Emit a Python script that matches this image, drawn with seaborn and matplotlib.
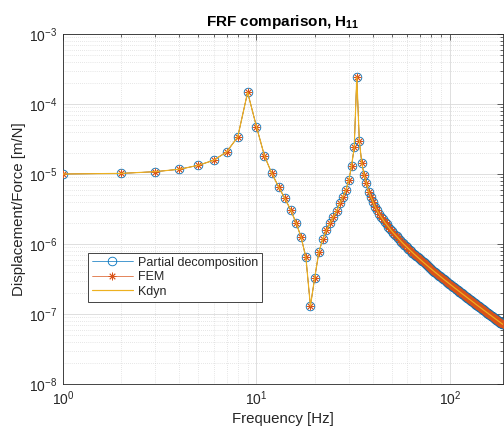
import matplotlib
matplotlib.use("Agg")
import matplotlib.pyplot as plt
import seaborn as sns
import pandas as pd
from matplotlib.ticker import LogLocator, NullFormatter

# ---------------- data ----------------
freq_hz = list(range(1, 189))

h11_low = [
    1.00e-5, 1.02e-5, 1.08e-5, 1.17e-5, 1.33e-5, 1.57e-5, 2.06e-5, 3.38e-5, 1.47e-4, 4.74e-5,
    1.81e-5, 1.02e-5, 6.6e-6, 4.5e-6, 3.1e-6, 2.02e-6, 1.26e-6, 6.45e-7, 1.30e-7, 3.3e-7,
    7.6e-7, 1.17e-6, 1.58e-6, 1.98e-6, 2.46e-6, 2.99e-6, 3.81e-6, 4.74e-6, 5.9e-6, 8.1e-6,
    1.3e-5, 2.4e-5, 2.43e-4, 2.99e-5, 1.45e-5, 9.7e-6, 7.4e-6, 5.6e-6, 4.74e-6, 4.02e-6,
]
h11_tail = [
    3.41e-6, 3.02e-6, 2.71e-6, 2.45e-6, 2.24e-6, 2.05e-6, 1.90e-6, 1.76e-6, 1.64e-6, 1.53e-6,
    1.44e-6, 1.35e-6, 1.28e-6, 1.21e-6, 1.14e-6, 1.08e-6, 1.03e-6, 9.83e-7, 9.38e-7, 8.96e-7,
    8.57e-7, 8.21e-7, 7.87e-7, 7.56e-7, 7.27e-7, 6.99e-7, 6.73e-7, 6.49e-7, 6.26e-7, 6.04e-7,
    5.84e-7, 5.64e-7, 5.46e-7, 5.28e-7, 5.12e-7, 4.96e-7, 4.81e-7, 4.66e-7, 4.53e-7, 4.40e-7,
    4.27e-7, 4.15e-7, 4.04e-7, 3.93e-7, 3.83e-7, 3.73e-7, 3.63e-7, 3.54e-7, 3.45e-7, 3.36e-7,
    3.28e-7, 3.20e-7, 3.13e-7, 3.05e-7, 2.98e-7, 2.91e-7, 2.85e-7, 2.79e-7, 2.72e-7, 2.67e-7,
    2.61e-7, 2.55e-7, 2.50e-7, 2.45e-7, 2.40e-7, 2.35e-7, 2.30e-7, 2.26e-7, 2.21e-7, 2.17e-7,
    2.13e-7, 2.09e-7, 2.05e-7, 2.01e-7, 1.97e-7, 1.94e-7, 1.90e-7, 1.87e-7, 1.83e-7, 1.80e-7,
    1.77e-7, 1.74e-7, 1.71e-7, 1.68e-7, 1.65e-7, 1.62e-7, 1.60e-7, 1.57e-7, 1.55e-7, 1.52e-7,
    1.50e-7, 1.47e-7, 1.45e-7, 1.43e-7, 1.40e-7, 1.38e-7, 1.36e-7, 1.34e-7, 1.32e-7, 1.30e-7,
    1.28e-7, 1.26e-7, 1.25e-7, 1.23e-7, 1.21e-7, 1.19e-7, 1.18e-7, 1.16e-7, 1.14e-7, 1.13e-7,
    1.11e-7, 1.10e-7, 1.08e-7, 1.07e-7, 1.05e-7, 1.04e-7, 1.03e-7, 1.01e-7, 9.99e-8, 9.86e-8,
    9.74e-8, 9.62e-8, 9.49e-8, 9.37e-8, 9.25e-8, 9.14e-8, 9.03e-8, 8.91e-8, 8.80e-8, 8.71e-8,
    8.60e-8, 8.49e-8, 8.39e-8, 8.30e-8, 8.20e-8, 8.11e-8, 8.01e-8, 7.92e-8, 7.82e-8, 7.74e-8,
    7.65e-8, 7.56e-8, 7.48e-8, 7.40e-8, 7.32e-8, 7.24e-8, 7.16e-8, 7.08e-8,
]
h11 = h11_low + h11_tail

partial_decomposition = h11
fem = h11
kdyn = h11

series_labels = ["Partial decomposition", "FEM", "Kdyn"]
x_label = "Frequency [Hz]"
y_label = "Displacement/Force [m/N]"
title = r"FRF comparison, $\mathbf{H_{11}}$"

# ---------------- style ----------------
sns.set_style("white")
plt.rcParams["font.family"] = ["Liberation Sans", "DejaVu Sans"]
plt.rcParams["mathtext.fontset"] = "custom"
plt.rcParams["mathtext.rm"] = "Liberation Sans"
plt.rcParams["mathtext.it"] = "Liberation Sans:italic"
plt.rcParams["mathtext.bf"] = "Liberation Sans:bold"

AX_COLOR = "#262626"
BLUE = "#0072BD"
ORANGE = "#D95319"
YELLOW = "#EDB120"

fig = plt.figure(figsize=(5.04, 4.34), dpi=100)
ax = fig.add_axes([63 / 504, 1 - 384 / 434, 440 / 504, 350 / 434])

df = pd.DataFrame({"f": freq_hz, "partial": partial_decomposition, "fem": fem, "kdyn": kdyn})

sns.lineplot(data=df, x="f", y="partial", ax=ax, color=BLUE, linewidth=0.5,
             marker="o", markersize=6.2, markerfacecolor="none",
             markeredgecolor=BLUE, markeredgewidth=0.6, label=series_labels[0], zorder=3)
sns.lineplot(data=df, x="f", y="fem", ax=ax, color=ORANGE, linewidth=0.5,
             marker=(8, 2, 0), markersize=5.5, markeredgecolor=ORANGE,
             markeredgewidth=0.6, label=series_labels[1], zorder=4)
sns.lineplot(data=df, x="f", y="kdyn", ax=ax, color=YELLOW, linewidth=0.85,
             label=series_labels[2], zorder=5)

ax.set_xscale("log")
ax.set_yscale("log")
ax.set_xlim(1, 188)
ax.set_ylim(1e-8, 1e-3)

ax.xaxis.set_minor_locator(LogLocator(base=10, subs=range(2, 10), numticks=20))
ax.yaxis.set_minor_locator(LogLocator(base=10, subs=range(2, 10), numticks=20))
ax.xaxis.set_minor_formatter(NullFormatter())
ax.yaxis.set_minor_formatter(NullFormatter())

ax.grid(which="major", color="#d9d9d9", linewidth=0.6, linestyle="-")
ax.grid(which="minor", color="#cfcfcf", linewidth=0.5, linestyle=(0, (1, 2)))
ax.set_axisbelow(True)

for sp in ax.spines.values():
    sp.set_color(AX_COLOR)
    sp.set_linewidth(0.6)
    sp.set_visible(True)

ax.tick_params(which="both", direction="in", top=True, right=True,
               colors=AX_COLOR, labelsize=10, width=0.5)
ax.tick_params(which="major", length=4, pad=4)
ax.tick_params(which="minor", length=2)

ax.set_xlabel(x_label, fontsize=10.8, color=AX_COLOR, labelpad=3)
ax.set_ylabel(y_label, fontsize=10.8, color=AX_COLOR, labelpad=2)
ax.set_title(title, fontsize=11, fontweight="bold", color="black", pad=6)

leg = ax.legend(loc="upper left", bbox_to_anchor=(0.057, 0.374), borderaxespad=0,
                fontsize=9, handlelength=3.3, handletextpad=0.4, labelspacing=0.2,
                borderpad=0.3, frameon=True, fancybox=False, framealpha=1,
                edgecolor=AX_COLOR)
leg.get_frame().set_linewidth(0.6)

fig.savefig("out.png", dpi=100)
